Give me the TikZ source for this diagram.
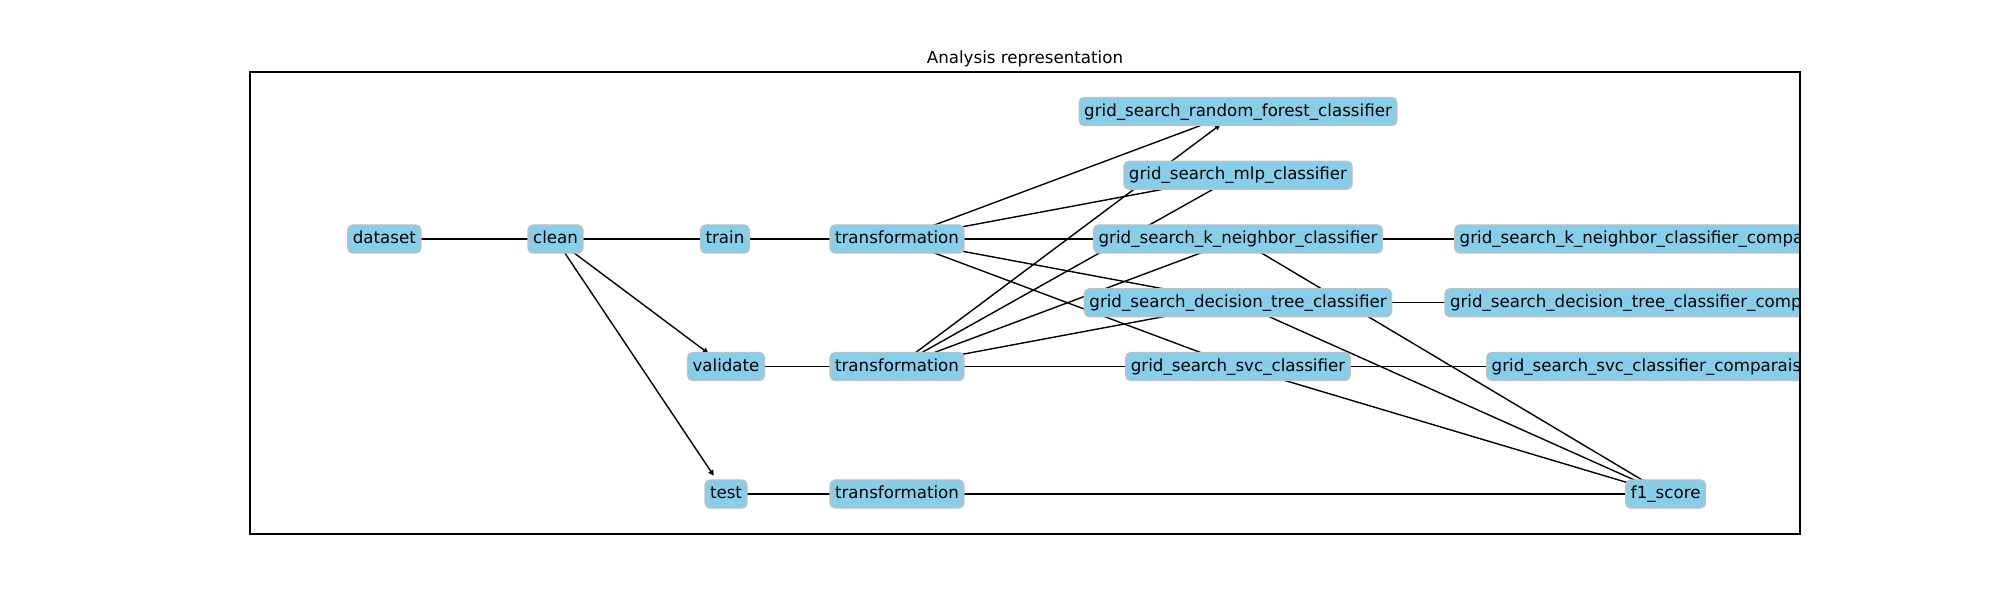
\documentclass[tikz,border=0pt]{standalone}
\usepackage{fontspec}
\setmainfont{DejaVu Sans}
\usetikzlibrary{arrows.meta,backgrounds}
\definecolor{skyblue}{HTML}{87CEEB}
\definecolor{silverc}{HTML}{C0C0C0}
\tikzset{
  lbl/.style={fill=skyblue, draw=silverc, line width=1pt, rounded corners=3.6pt,
    inner xsep=3.6pt, inner ysep=3.6pt, text height=9.9pt, text depth=3.1pt,
    font=\fontsize{12}{14.4}\selectfont},
  edge/.style={line width=1pt, black},
  arr/.style={edge, -{Triangle[length=4pt,width=4pt]}, shorten >=15.84pt},
}
\begin{document}
\begin{tikzpicture}[x=0.72pt,y=-0.72pt]
\useasboundingbox (0,0) rectangle (2000,600);
\node[font=\fontsize{12}{14.4}\selectfont, anchor=base, inner sep=0pt] (title) at (1025,63.5) {Analysis representation};
\node[lbl] (ds) at (384.3,239) {dataset};
\node[lbl] (cl) at (555.5,239) {clean};
\node[lbl] (tr) at (725,239) {train};
\node[lbl] (va) at (726,366.5) {validate};
\node[lbl] (te) at (726,494) {test};
\node[lbl] (t1) at (897,239) {transformation};
\node[lbl] (t2) at (897,366.5) {transformation};
\node[lbl] (t3) at (897,494) {transformation};
\node[lbl] (rf) at (1238,111.5) {grid\_search\_random\_forest\_classifier};
\node[lbl] (mlp) at (1238,175.25) {grid\_search\_mlp\_classifier};
\node[lbl] (kn) at (1238,239) {grid\_search\_k\_neighbor\_classifier};
\node[lbl] (dt) at (1238,302.75) {grid\_search\_decision\_tree\_classifier};
\node[lbl] (svc) at (1238,366.5) {grid\_search\_svc\_classifier};
\node[lbl] (f1) at (1665.7,494) {f1\_score};
\begin{scope}
\clip (250,72) rectangle (1800,534);
\node[lbl, anchor=west] (knc) at (1454,239) {grid\_search\_k\_neighbor\_classifier\_comparaison};
\node[lbl, anchor=west] (dtc) at (1444.3,302.75) {grid\_search\_decision\_tree\_classifier\_comparaison};
\node[lbl, anchor=west] (svcc) at (1486,366.5) {grid\_search\_svc\_classifier\_comparaison};
\end{scope}
\draw[line width=0.8pt] (250,72) rectangle (1800,534);
\begin{scope}[on background layer]
\draw[edge] (ds.center) -- (cl.center);
\draw[edge] (cl.center) -- (tr.center);
\draw[edge] (tr.center) -- (t1.center);
\draw[edge] (va.center) -- (t2.center);
\draw[edge] (te.center) -- (t3.center);
\draw[edge] (t1.center) -- (rf.center);
\draw[edge] (t1.center) -- (mlp.center);
\draw[edge] (t1.center) -- (kn.center);
\draw[edge] (t1.center) -- (dt.center);
\draw[edge] (t1.center) -- (svc.center);
\draw[edge] (t2.center) -- (mlp.center);
\draw[edge] (t2.center) -- (kn.center);
\draw[edge] (t2.center) -- (dt.center);
\draw[edge] (t2.center) -- (svc.center);
\draw[edge] (kn.center) -- (knc.center);
\draw[edge] (dt.center) -- (dtc.center);
\draw[edge] (svc.center) -- (svcc.center);
\draw[edge] (kn.center) -- (f1.center);
\draw[edge] (dt.center) -- (f1.center);
\draw[edge] (svc.center) -- (f1.center);
\draw[edge] (t3.center) -- (f1.center);
\draw[arr] (cl.center) -- (va.center);
\draw[arr] (cl.center) -- (te.center);
\draw[arr] (t2.center) -- (rf.center);
\end{scope}
\end{tikzpicture}
\end{document}
